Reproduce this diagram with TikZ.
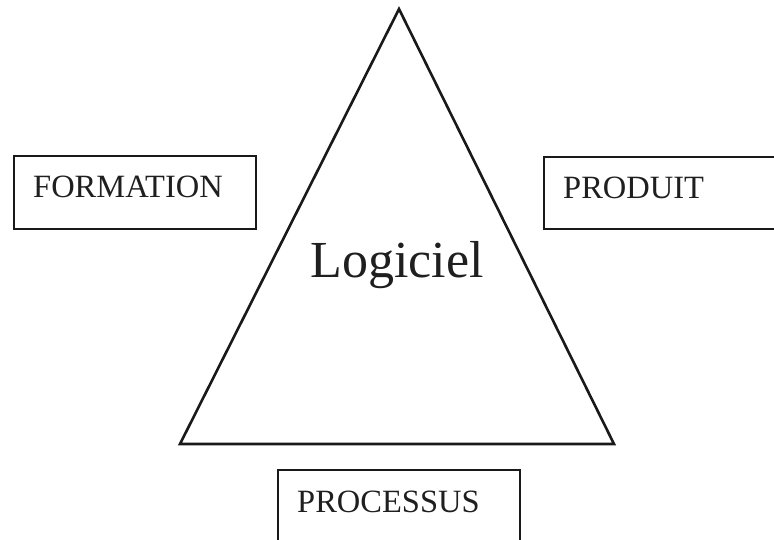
\documentclass[tikz,border=0pt]{standalone}
\usepackage{fontspec}
\setmainfont{Liberation Serif}
\begin{document}
\begin{tikzpicture}[x=1pt,y=-1pt,
  frame/.style={draw=black!90, line width=2.2pt, rectangle, inner sep=0pt},
  label/.style={anchor=base west, inner sep=0pt, font=\fontsize{32.5}{36}\selectfont, text=black!88},
  edge/.style={draw=black!90, line width=2.6pt, line join=miter}]
  \useasboundingbox (0,0) rectangle (774,539);

  % central triangle
  \coordinate (apex) at (399,9);
  \coordinate (bl) at (180,444);
  \coordinate (br) at (614,444);
  \draw[edge] (apex) -- (bl) -- (br) -- cycle;
  \node[anchor=base, inner sep=0pt, font=\fontsize{52}{60}\selectfont, text=black!88] (logiciel) at (397,277) {Logiciel};

  % surrounding boxes
  \node[frame, anchor=north west, minimum width=242, minimum height=73] (formation) at (12.5,155) {};
  \node[label] (tformation) at (33,197) {FORMATION};

  \node[frame, anchor=north west, minimum width=260, minimum height=72] (produit) at (543,156) {};
  \node[label] (tproduit) at (563,198) {PRODUIT};

  \node[frame, anchor=north west, minimum width=242, minimum height=90] (processus) at (277,469) {};
  \node[label] (tprocessus) at (297,512) {PROCESSUS};
\end{tikzpicture}
\end{document}
